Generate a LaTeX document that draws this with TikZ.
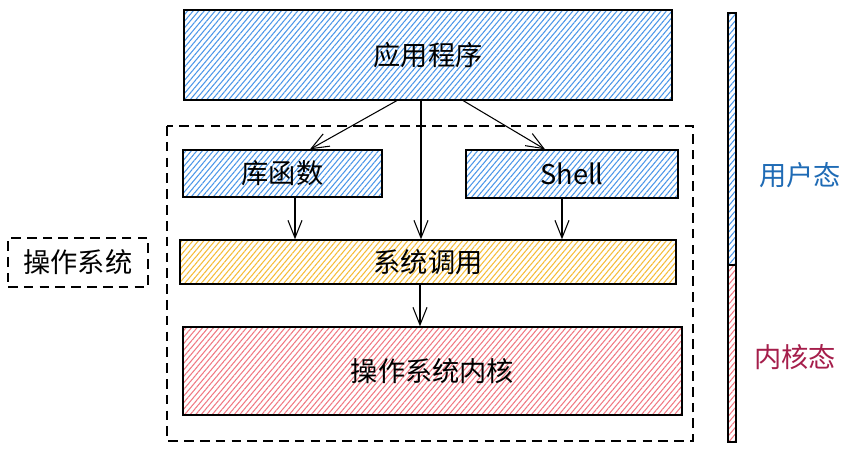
\documentclass[tikz,border=0pt]{standalone}
\usepackage{fontspec}
\setmainfont{Noto Sans CJK SC}
\usepackage{tikz}
\usetikzlibrary{arrows.meta,patterns.meta}
\definecolor{userblue}{RGB}{75,150,232}
\definecolor{sysyellow}{RGB}{245,188,55}
\definecolor{kernred}{RGB}{240,120,130}
\definecolor{usertext}{RGB}{31,107,181}
\definecolor{kerntext}{RGB}{165,30,75}
\tikzset{
  layer/.style={draw, line width=0.8pt, inner sep=0pt, font=\fontsize{15.5}{18}\selectfont},
  hatch/.style={pattern={Lines[angle=50,distance=2.4pt,line width=0.6pt]}, pattern color=#1},
  dashbox/.style={draw, line width=0.8pt, dash pattern=on 5.5pt off 3.5pt},
  arr/.style={-{Straight Barb[length=10pt,width=8pt]}, line width=0.6pt}
}

\begin{document}
\begin{tikzpicture}[x=0.02cm, y=-0.02cm]
    \useasboundingbox (0,0) rectangle (853,451);

    % user space
    \node[layer, hatch=userblue, minimum width=9.76cm, minimum height=1.8cm] (app) at (428,55) {应用程序};
    \node[layer, hatch=userblue, minimum width=3.98cm, minimum height=0.94cm] (lib) at (282.5,173.5) {库函数};
    \node[layer, hatch=userblue, minimum width=4.24cm, minimum height=0.96cm] (shell) at (572,174) {Shell};

    % operating system
    \draw[dashbox] (167,126) rectangle (693,441);
    \node[dashbox, inner sep=0pt, minimum width=2.8cm, minimum height=0.98cm,
          font=\fontsize{15.5}{18}\selectfont] (os) at (78,262.5) {操作系统};
    \node[layer, hatch=sysyellow, minimum width=9.92cm, minimum height=0.88cm] (syscall) at (428,262) {系统调用};
    \node[layer, hatch=kernred, minimum width=9.98cm, minimum height=1.76cm] (kernel) at (432.5,371) {操作系统内核};

    % calls
    \draw[arr] (app.south -| 397,0) -- (lib.north -| 310,0);
    \draw[arr] (app.south -| 421,0) -- (syscall.north -| 421,0);
    \draw[arr] (app.south -| 463,0) -- (shell.north -| 545,0);
    \draw[arr] (lib.south -| 295,0) -- (syscall.north -| 295,0);
    \draw[arr] (shell.south -| 562,0) -- (syscall.north -| 562,0);
    \draw[arr] (syscall.south -| 420,0) -- (kernel.north -| 420,0);

    % user / kernel mode
    \draw[line width=0.8pt, hatch=userblue] (728,13) rectangle (736,265);
    \draw[line width=0.8pt, hatch=kernred] (728,265) rectangle (736,442);
    \node[font=\fontsize{15.5}{18}\selectfont, text=usertext] (usermode) at (800,175) {用户态};
    \node[font=\fontsize{15.5}{18}\selectfont, text=kerntext] (kernmode) at (795,357) {内核态};
\end{tikzpicture}
\end{document}
